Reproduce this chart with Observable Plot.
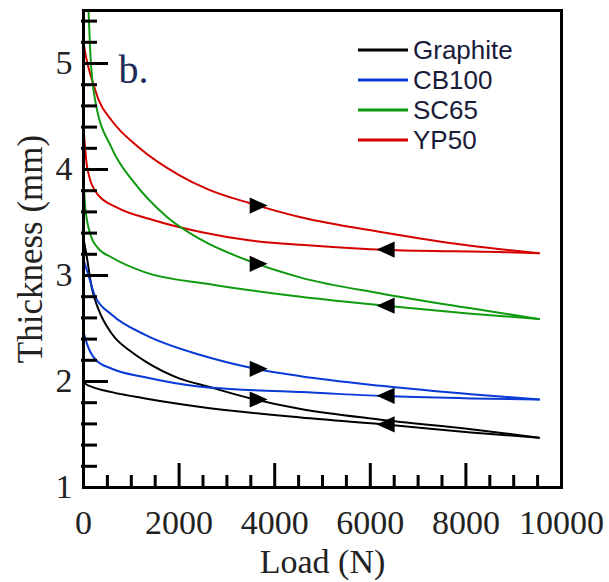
<!DOCTYPE html>
<html>
<head>
<meta charset="utf-8">
<script src="https://cdn.jsdelivr.net/npm/d3@7"></script>
<script src="https://cdn.jsdelivr.net/npm/@observablehq/plot@0.6"></script>
<style>
  html, body { margin: 0; padding: 0; background: #fff; }
  #wrap { position: relative; width: 609px; height: 582px; }
  #legend { position: absolute; left: 358px; top: 35px; font-family: "Liberation Sans", Arial, sans-serif; font-size: 26px; color: #1a1a3a; }
  #legend .row { display: flex; align-items: center; height: 30px; line-height: 30px; }
  #legend svg { display: block; margin-right: 5px; }
</style>
</head>
<body>
<div id="wrap"><div id="legend"></div></div>
<script>
// ---- data (Load in N, Thickness in mm) ----
const seriesNames = ["Graphite", "CB100", "SC65", "YP50"];
const seriesColors = ["#000000", "#0a3ad6", "#0f9a0f", "#d40000"];

const graphiteLoadX   = [0, 60, 175, 314, 593, 1000, 1292, 2000, 2618, 3497, 4544, 6220, 8105, 9529];
const graphiteLoadY   = [3.35, 3.2, 2.88, 2.68, 2.45, 2.28, 2.19, 2.03, 1.95, 1.84, 1.74, 1.64, 1.55, 1.47];
const graphiteUnloadX = [9529, 8105, 6429, 4544, 2450, 1292, 593, 175, 35, 0];
const graphiteUnloadY = [1.47, 1.52, 1.59, 1.66, 1.76, 1.84, 1.90, 1.95, 1.98, 2.0];

const cb100LoadX   = [0, 105, 245, 593, 1292, 2450, 3497, 4544, 6220, 8105, 9529];
const cb100LoadY   = [3.15, 3.0, 2.80, 2.63, 2.44, 2.25, 2.13, 2.05, 1.96, 1.88, 1.83];
const cb100UnloadX = [9529, 8105, 6429, 4544, 3497, 2450, 1292, 593, 245, 70, 0];
const cb100UnloadY = [1.83, 1.84, 1.86, 1.90, 1.92, 1.95, 2.04, 2.12, 2.21, 2.36, 2.47];

const sc65LoadX   = [105, 140, 245, 593, 1054, 1752, 2450, 3567, 4544, 6220, 8105, 9529];
const sc65LoadY   = [5.5, 5.12, 4.65, 4.20, 3.88, 3.55, 3.34, 3.12, 2.98, 2.83, 2.69, 2.59];
const sc65UnloadX = [9529, 8105, 6429, 4544, 2618, 1292, 593, 300, 150, 35, 0];
const sc65UnloadY = [2.59, 2.64, 2.71, 2.80, 2.92, 3.03, 3.17, 3.26, 3.38, 3.65, 3.92];

const yp50LoadX   = [0, 50, 105, 210, 314, 593, 1152, 1990, 2618, 3497, 4544, 6220, 8105, 9529];
const yp50LoadY   = [5.2, 5.07, 4.96, 4.80, 4.66, 4.46, 4.21, 3.95, 3.81, 3.68, 3.55, 3.41, 3.28, 3.21];
const yp50UnloadX = [9529, 8796, 6429, 4544, 3497, 2450, 1403, 705, 287, 77, 0];
const yp50UnloadY = [3.21, 3.22, 3.24, 3.29, 3.33, 3.41, 3.53, 3.64, 3.77, 4.02, 4.4];

// direction arrows (loading → right, unloading ← left)
const loadArrowX   = [3665, 3665, 3665, 3665];
const loadArrowY   = [1.83, 2.12, 3.11, 3.66];
const unloadArrowX = [6320, 6320, 6320, 6320];
const unloadArrowY = [1.595, 1.865, 2.715, 3.245];

// axis ticks
const xMajorTicks = [0, 2000, 4000, 6000, 8000, 10000];
const xMinorTicks = d3.range(500, 10000, 500).filter(v => v % 2000 !== 0);
const yMajorTicks = [1, 2, 3, 4, 5];
const yMinorTicks = d3.range(12, 56, 2).map(v => v / 10).filter(v => Math.abs(v - Math.round(v)) > 1e-9);

// ---- build tables ----
const curves = [
  [graphiteLoadX, graphiteLoadY, graphiteUnloadX, graphiteUnloadY],
  [cb100LoadX, cb100LoadY, cb100UnloadX, cb100UnloadY],
  [sc65LoadX, sc65LoadY, sc65UnloadX, sc65UnloadY],
  [yp50LoadX, yp50LoadY, yp50UnloadX, yp50UnloadY]
];
let lineRows = [];
curves.forEach(([lx, ly, ux, uy], i) => {
  lx.forEach((x, j) => lineRows.push({series: seriesNames[i], phase: "load", load: x, thick: ly[j]}));
  ux.forEach((x, j) => lineRows.push({series: seriesNames[i], phase: "unload", load: x, thick: uy[j]}));
});
lineRows = d3.sort(lineRows, d => d.load);
const arrowRows = [];
seriesNames.forEach((s, i) => {
  arrowRows.push({series: s, dir: "right", load: loadArrowX[i], thick: loadArrowY[i]});
  arrowRows.push({series: s, dir: "left", load: unloadArrowX[i], thick: unloadArrowY[i]});
});

const triRight = {draw(ctx, size) { const r = Math.sqrt(size / Math.PI); ctx.moveTo(r, 0); ctx.lineTo(-r, -0.9 * r); ctx.lineTo(-r, 0.9 * r); ctx.closePath(); }};
const triLeft  = {draw(ctx, size) { const r = Math.sqrt(size / Math.PI); ctx.moveTo(-r, 0); ctx.lineTo(r, -0.9 * r); ctx.lineTo(r, 0.9 * r); ctx.closePath(); }};

const serif = "'Liberation Serif', 'Times New Roman', serif";
const textColor = "#222";
const plain = d => String(d);

const chart = Plot.plot({
  width: 609,
  height: 582,
  marginLeft: 83,
  marginRight: 48,
  marginTop: 10,
  marginBottom: 95,
  style: {background: "#fff", overflow: "visible"},
  x: {domain: [0, 10000]},
  y: {domain: [1, 5.5]},
  color: {domain: seriesNames, range: seriesColors},
  marks: [
    Plot.line(lineRows, {x: "load", y: "thick", z: d => d.series + d.phase, stroke: "series", strokeWidth: 2, curve: "monotone-x", clip: true}),
    Plot.dot(arrowRows.filter(d => d.dir === "right"), {x: "load", y: "thick", symbol: triRight, r: 9, fill: "black", stroke: "none"}),
    Plot.dot(arrowRows.filter(d => d.dir === "left"), {x: "load", y: "thick", symbol: triLeft, r: 9, fill: "black", stroke: "none"}),
    // inward ticks
    Plot.axisX({ticks: xMajorTicks.filter(v => v < 10000), tickSize: 24, dy: -24, tickFormat: () => "", label: null, strokeWidth: 3}),
    Plot.axisX({ticks: xMinorTicks, tickSize: 12, dy: -12, tickFormat: () => "", label: null, strokeWidth: 3}),
    Plot.axisY({ticks: yMajorTicks, tickSize: 26, dx: 25, tickFormat: () => "", label: null, strokeWidth: 3}),
    Plot.axisY({ticks: yMinorTicks, tickSize: 16, dx: 14, tickFormat: () => "", label: null, strokeWidth: 3}),
    // tick labels
    Plot.axisX({ticks: xMajorTicks, tickSize: 0, tickPadding: 22, tickFormat: plain, label: null, fontSize: 34, fontFamily: serif, fill: textColor}),
    Plot.axisY({ticks: yMajorTicks, tickSize: 0, tickPadding: 11, tickFormat: plain, label: null, fontSize: 34, fontFamily: serif, fill: textColor}),
    Plot.frame({stroke: "black", strokeWidth: 3}),
    // axis titles and panel tag
    Plot.text(["Load (N)"], {text: d => d, frameAnchor: "bottom", dy: 75, lineAnchor: "middle", fontSize: 34, fontFamily: serif, fill: textColor}),
    Plot.text(["Thickness (mm)"], {text: d => d, frameAnchor: "left", dx: -53, rotate: -90, textAnchor: "middle", lineAnchor: "middle", fontSize: 35, fontFamily: serif, fill: textColor}),
    Plot.text(["b."], {text: d => d, frameAnchor: "top-left", dx: 35, dy: 44, fontSize: 40, fontFamily: serif, fill: "#1c2a55", textAnchor: "start"})
  ]
});
const wrap = document.getElementById("wrap");
wrap.insertBefore(chart, wrap.firstChild);

// legend
const legend = d3.select("#legend");
seriesNames.forEach((s, i) => {
  const row = legend.append("div").attr("class", "row");
  const sv = row.append("svg").attr("width", 50).attr("height", 30);
  sv.append("line").attr("x1", 0).attr("x2", 50).attr("y1", 15).attr("y2", 15).attr("stroke", seriesColors[i]).attr("stroke-width", 3);
  row.append("span").text(s);
});
</script>
</body>
</html>
